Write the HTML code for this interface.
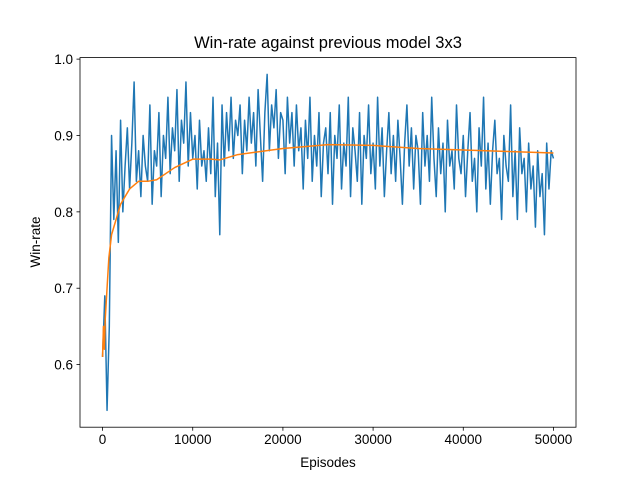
<!DOCTYPE html>
<html><head><meta charset="utf-8"><style>
body{margin:0;background:#fff}
svg{display:block;font-family:"Liberation Sans","DejaVu Sans",sans-serif}
</style></head><body>
<svg id="chart" width="640" height="480" viewBox="0 0 640 480">
<rect width="640" height="480" fill="#fff"/>
<text x="328" y="48" font-size="16.5" text-anchor="middle">Win-rate against previous model 3x3</text>
<text x="328" y="467" font-size="13.5" text-anchor="middle">Episodes</text>
<text transform="translate(40,242) rotate(-90)" font-size="13.5" text-anchor="middle">Win-rate</text>
<g id="plot"></g>
</svg>
<script>
const step = 250;
const winRate = [
0.61,0.69,0.54,0.65,0.90,0.79,0.88,0.76,0.92,0.80,0.86,0.91,0.83,0.89,0.97,0.84,0.88,0.82,0.90,0.86,
0.84,0.94,0.81,0.88,0.86,0.93,0.82,0.90,0.87,0.95,0.85,0.91,0.88,0.96,0.84,0.92,0.89,0.97,0.86,0.93,
0.87,0.90,0.83,0.92,0.86,0.88,0.84,0.91,0.85,0.95,0.82,0.89,0.77,0.94,0.86,0.93,0.88,0.95,0.87,0.92,
0.90,0.94,0.85,0.92,0.88,0.95,0.89,0.93,0.86,0.96,0.90,0.84,0.93,0.98,0.88,0.94,0.91,0.96,0.87,0.93,
0.92,0.85,0.95,0.89,0.93,0.86,0.94,0.88,0.91,0.83,0.92,0.87,0.95,0.84,0.90,0.86,0.93,0.82,0.89,0.91,
0.85,0.93,0.81,0.90,0.87,0.94,0.83,0.89,0.86,0.95,0.82,0.91,0.88,0.84,0.93,0.81,0.90,0.87,0.94,0.85,
0.89,0.83,0.95,0.86,0.91,0.82,0.88,0.93,0.85,0.90,0.84,0.92,0.87,0.81,0.89,0.94,0.86,0.91,0.83,0.90,
0.88,0.81,0.93,0.86,0.90,0.84,0.95,0.87,0.82,0.91,0.85,0.89,0.80,0.92,0.86,0.88,0.83,0.94,0.87,0.85,
0.90,0.82,0.88,0.93,0.84,0.87,0.80,0.91,0.86,0.95,0.83,0.89,0.81,0.88,0.92,0.85,0.87,0.79,0.90,0.86,
0.84,0.94,0.82,0.88,0.79,0.91,0.85,0.87,0.80,0.89,0.83,0.86,0.78,0.88,0.82,0.85,0.77,0.89,0.83,0.88,0.87];
const avgEpisodes = [0,100,200,300,500,700,1000,1500,2000,3000,4000,5000,6000,8000,10000,12000,13000,15000,20000,25000,30000,35000,40000,45000,50000];
const avgValues = [0.61,0.65,0.62,0.66,0.70,0.74,0.77,0.79,0.81,0.83,0.84,0.84,0.842,0.858,0.869,0.869,0.868,0.875,0.883,0.888,0.887,0.883,0.881,0.879,0.877];
const xTicks = [0,10000,20000,30000,40000,50000];
const xTickLabels = ["0","10000","20000","30000","40000","50000"];
const yTicks = [0.6,0.7,0.8,0.9,1.0];
const yTickLabels = ["0.6","0.7","0.8","0.9","1.0"];

const L=80,R=576,T=57.6,B=427.2;
const xMin=-2500,xMax=52500,yMin=0.518,yMax=1.002;
const X=v=>L+(v-xMin)/(xMax-xMin)*(R-L);
const Y=v=>B-(v-yMin)/(yMax-yMin)*(B-T);
const NS="http://www.w3.org/2000/svg";
const g=document.getElementById('plot');
function mk(t,a,p){const e=document.createElementNS(NS,t);for(const k in a)e.setAttribute(k,a[k]);(p||g).appendChild(e);return e;}

let d=winRate.map((v,i)=>(i?'L':'M')+X(i*step).toFixed(2)+','+Y(v).toFixed(2)).join('');
const bl=mk('path',{d:d,fill:'none',stroke:'#1f77b4','stroke-width':1.5,'stroke-linejoin':'round'});


d=avgValues.map((v,i)=>(i?'L':'M')+X(avgEpisodes[i]).toFixed(2)+','+Y(v).toFixed(2)).join('');
const ol=mk('path',{d:d,fill:'none',stroke:'#ff7f0e','stroke-width':1.5,'stroke-linejoin':'round'});



const frame=mk('rect',{x:L,y:T,width:R-L,height:B-T,fill:'none',stroke:'#000','stroke-width':0.8});



xTicks.forEach((v,i)=>{
  const x=X(v);
  const tk=mk('line',{x1:x,x2:x,y1:B,y2:B+3.5,stroke:'#000','stroke-width':0.8});
  
  
  const tx=mk('text',{x:x,y:B+17,'font-size':13.5,'text-anchor':'middle'});
  tx.textContent=xTickLabels[i];
  
  
});
yTicks.forEach((v,i)=>{
  const y=Y(v);
  const tk=mk('line',{x1:L-3.5,x2:L,y1:y,y2:y,stroke:'#000','stroke-width':0.8});
  
  
  const tx=mk('text',{x:L-7,y:y+5,'font-size':13.5,'text-anchor':'end'});
  tx.textContent=yTickLabels[i];
  
  
});
</script>
</body></html>
